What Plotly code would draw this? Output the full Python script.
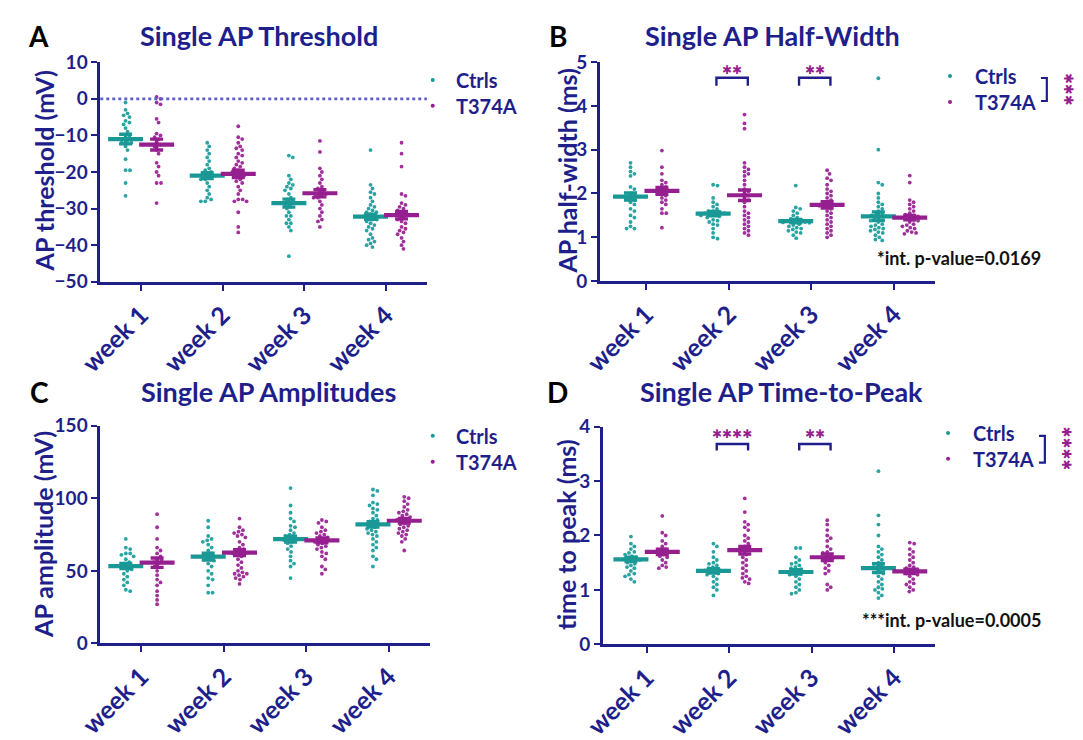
import plotly.graph_objects as go
import numpy as np

# ---------------------------------------------------------------- data
weeks = ["week 1", "week 2", "week 3", "week 4"]
groups = ["Ctrls", "T374A"]

# A: AP threshold (mV)
threshold_ctrl = [
    [-1, -3, -4, -4.5, -5, -6, -6.5, -7, -8, -9, -10, -10.5, -11, -11, -11.5, -12, -12, -13, -14, -16.5, -19.5, -19.5, -23, -26.5],
    [-12, -13, -14, -15, -16, -17, -18, -19, -19.5, -20, -20.5, -21, -21, -21.5, -22, -22, -23, -24, -25, -26, -27, -27.5, -28, -28],
    [-15.5, -16, -21, -22, -23, -23.5, -24, -24.5, -25, -26, -27, -27.5, -28, -28.5, -29, -29.5, -30, -31, -32, -32, -33, -34, -34, -35, -36, -43],
    [-14, -23.5, -24.5, -25.5, -26, -27, -28, -29, -29.5, -30, -30.5, -31, -31, -31.5, -32, -32, -32.5, -33, -33, -33.5, -34, -34.5, -35, -35.5, -36, -37, -38, -38.5, -39, -39.5, -40, -40.5],
]
threshold_mut = [
    [0.5, 0, -1, -1.5, -5.5, -6.5, -9.5, -10, -10.5, -11, -12, -12.5, -13, -14, -15, -17.5, -18.5, -20, -21, -23, -23, -28.5],
    [-7.5, -10.5, -11, -12, -13, -13.5, -14, -15, -15.5, -16, -17, -17.5, -18, -18.5, -19, -19.5, -20, -20, -21, -21, -22, -22.5, -23, -24, -25, -26, -27.5, -27.5, -28, -28, -31, -35, -36.5],
    [-11.5, -14.5, -19, -20, -21, -22, -23, -24, -24.5, -25, -25.5, -26, -26, -26.5, -27, -27, -28, -29, -30, -31, -32, -33, -33.5, -35],
    [-12, -15, -18.5, -26, -26.5, -28.5, -29, -29.5, -30, -30.5, -31, -31.5, -32, -32.5, -33, -33.5, -34, -35, -35.5, -36, -36.5, -37, -38, -39, -40, -41],
]
threshold_mean_ctrl = [-11.0, -21.0, -28.5, -32.2]
threshold_mean_mut = [-12.5, -20.5, -25.8, -31.8]
threshold_sem_ctrl = [1.3, 0.8, 1.1, 0.7]
threshold_sem_mut = [1.5, 1.0, 1.0, 1.0]

# B: AP half-width (ms)
halfwidth_ctrl = [
    [2.7, 2.6, 2.5, 2.45, 2.4, 2.15, 2.1, 2.0, 1.95, 1.9, 1.9, 1.85, 1.8, 1.75, 1.65, 1.6, 1.5, 1.45, 1.35, 1.25, 1.2, 1.2],
    [2.2, 2.18, 1.9, 1.8, 1.75, 1.7, 1.65, 1.6, 1.6, 1.58, 1.55, 1.55, 1.52, 1.5, 1.5, 1.48, 1.45, 1.4, 1.38, 1.35, 1.3, 1.28, 1.2, 1.1, 1.0, 0.97],
    [2.18, 1.68, 1.65, 1.6, 1.55, 1.5, 1.45, 1.42, 1.4, 1.38, 1.36, 1.35, 1.34, 1.33, 1.3, 1.28, 1.25, 1.22, 1.2, 1.18, 1.15, 1.12, 1.1, 1.05, 0.98],
    [4.63, 3.0, 2.25, 2.2, 2.0, 1.9, 1.8, 1.75, 1.7, 1.65, 1.6, 1.55, 1.52, 1.5, 1.48, 1.45, 1.42, 1.4, 1.38, 1.35, 1.3, 1.28, 1.25, 1.22, 1.2, 1.18, 1.15, 1.12, 1.1, 1.05, 1.0, 0.95, 0.93],
]
halfwidth_mut = [
    [2.98, 2.6, 2.45, 2.3, 2.25, 2.2, 2.15, 2.1, 2.05, 2.0, 2.0, 1.95, 1.9, 1.85, 1.8, 1.75, 1.65, 1.55, 1.55, 1.22],
    [3.8, 3.6, 3.48, 2.7, 2.6, 2.55, 2.5, 2.45, 2.4, 2.3, 2.2, 2.1, 2.05, 2.0, 1.95, 1.9, 1.85, 1.8, 1.7, 1.6, 1.55, 1.5, 1.45, 1.4, 1.35, 1.3, 1.25, 1.2, 1.15, 1.1, 1.05],
    [2.53, 2.45, 2.35, 2.3, 2.2, 2.1, 2.05, 2.0, 1.95, 1.9, 1.85, 1.8, 1.78, 1.75, 1.72, 1.7, 1.65, 1.6, 1.55, 1.5, 1.45, 1.4, 1.35, 1.3, 1.25, 1.2, 1.15, 1.1, 1.05, 1.0],
    [2.41, 2.25, 1.85, 1.8, 1.75, 1.7, 1.65, 1.6, 1.55, 1.52, 1.5, 1.48, 1.45, 1.42, 1.4, 1.38, 1.35, 1.3, 1.28, 1.25, 1.22, 1.2, 1.15, 1.12, 1.1, 1.08],
]
halfwidth_mean_ctrl = [1.93, 1.54, 1.37, 1.48]
halfwidth_mean_mut = [2.06, 1.96, 1.74, 1.45]
halfwidth_sem_ctrl = [0.08, 0.05, 0.04, 0.10]
halfwidth_sem_mut = [0.08, 0.12, 0.07, 0.05]

# C: AP amplitude (mV)
amplitude_ctrl = [
    [72, 66, 65, 62, 62, 61, 60, 58, 56, 55, 54, 53, 52, 51, 50, 48, 46, 44, 42, 40, 37, 36],
    [84.5, 80, 74, 72, 71, 70, 68, 66, 64, 62, 61, 60, 59, 58, 57, 55, 53, 50, 48, 45, 44, 40, 35, 35],
    [107, 95, 90, 86, 84, 81, 80, 78, 76, 75, 74, 73, 72, 72, 71, 70, 69, 67, 65, 63, 60, 57, 55, 53, 45],
    [106, 105, 102, 97, 96, 95, 93, 92, 90, 88, 86, 85, 84, 83, 82, 81, 80, 79, 78, 77, 76, 75, 74, 72, 70, 68, 66, 64, 60, 58, 53],
]
amplitude_mut = [
    [89, 80, 72, 66, 64, 62, 60, 58, 57, 56, 55, 53, 50, 47, 44, 42, 40, 36, 33, 30, 27],
    [86, 80, 78, 77, 76, 75, 74, 73, 70, 68, 66, 65, 64, 63, 62, 62, 61, 60, 58, 56, 54, 52, 50, 49, 48, 48, 47, 46, 45, 44, 41],
    [85, 84, 83, 80, 78, 77, 76, 75, 74, 73, 72, 71, 70, 70, 69, 68, 67, 66, 65, 63, 62, 60, 58, 53, 51, 48],
    [101, 100, 98, 96, 94, 92, 91, 90, 89, 88, 87, 86, 85, 85, 84, 83, 82, 81, 80, 79, 78, 77, 76, 75, 74, 72, 70, 64],
]
amplitude_mean_ctrl = [53.3, 59.8, 71.9, 82.0]
amplitude_mean_mut = [55.6, 62.5, 71.0, 84.5]
amplitude_sem_ctrl = [1.8, 2.3, 2.0, 1.8]
amplitude_sem_mut = [3.2, 2.0, 1.7, 1.6]

# D: time to peak (ms)
ttp_ctrl = [
    [1.98, 1.85, 1.8, 1.75, 1.7, 1.68, 1.65, 1.62, 1.6, 1.58, 1.56, 1.55, 1.53, 1.5, 1.48, 1.45, 1.42, 1.4, 1.35, 1.3, 1.28, 1.25, 1.2, 1.15],
    [1.85, 1.8, 1.7, 1.6, 1.55, 1.5, 1.48, 1.45, 1.42, 1.4, 1.38, 1.36, 1.35, 1.33, 1.3, 1.28, 1.25, 1.2, 1.15, 1.1, 1.05, 1.0, 0.9],
    [1.77, 1.77, 1.6, 1.55, 1.5, 1.48, 1.45, 1.42, 1.4, 1.38, 1.35, 1.33, 1.3, 1.28, 1.25, 1.2, 1.15, 1.1, 1.05, 1.0, 0.95, 0.93],
    [3.18, 2.37, 2.2, 2.0, 1.8, 1.75, 1.7, 1.65, 1.6, 1.55, 1.5, 1.48, 1.45, 1.42, 1.4, 1.38, 1.35, 1.32, 1.3, 1.25, 1.2, 1.15, 1.1, 1.05, 1.02, 1.0, 0.95, 0.9, 0.85],
]
ttp_mut = [
    [2.36, 2.05, 2.0, 1.9, 1.85, 1.8, 1.75, 1.72, 1.7, 1.68, 1.65, 1.62, 1.6, 1.55, 1.5, 1.45, 1.42, 1.4],
    [2.68, 2.43, 2.25, 2.2, 2.15, 2.1, 2.0, 1.95, 1.9, 1.85, 1.8, 1.78, 1.75, 1.72, 1.7, 1.65, 1.6, 1.55, 1.5, 1.45, 1.4, 1.35, 1.3, 1.25, 1.22, 1.2, 1.15, 1.12],
    [2.28, 2.2, 2.1, 2.0, 1.95, 1.9, 1.8, 1.75, 1.7, 1.68, 1.65, 1.62, 1.6, 1.58, 1.55, 1.5, 1.45, 1.4, 1.35, 1.3, 1.1, 1.05, 1.0],
    [1.87, 1.85, 1.75, 1.7, 1.65, 1.6, 1.55, 1.5, 1.45, 1.42, 1.4, 1.38, 1.35, 1.32, 1.3, 1.28, 1.25, 1.2, 1.15, 1.12, 1.1, 1.05, 1.0, 0.97],
]
ttp_mean_ctrl = [1.56, 1.35, 1.33, 1.40]
ttp_mean_mut = [1.70, 1.73, 1.60, 1.34]
ttp_sem_ctrl = [0.04, 0.04, 0.04, 0.08]
ttp_sem_mut = [0.05, 0.07, 0.06, 0.04]

titles = ["Single AP Threshold", "Single AP Half-Width", "Single AP Amplitudes", "Single AP Time-to-Peak"]
ylabels = ["AP threshold (mV)", "AP half-width (ms)", "AP amplitude (mV)", "time to peak (ms)"]
letters = ["A", "B", "C", "D"]

# ---------------------------------------------------------------- style
W, H = 1083, 740
NAVY = "#1f1f8c"
TEAL = "#1a9896"
MAG = "#961f90"
TEAL_DOT = "#2aa3a3"
MAG_DOT = "#a0309a"
FONT = "Lato"


def px(x):
    return x / W


def py(y):
    return 1 - y / H


# plot-area rectangles in pixels: (left, right, top, bottom), x-range, y-range, y-ticks
panels = [
    dict(box=(78.0, 412.0, 52.5, 282.0), xr=[-0.5, 3.5], yr=[-50, 10], ticks=list(range(-50, 11, 10)),
         ctrl=threshold_ctrl, mut=threshold_mut,
         mc=threshold_mean_ctrl, mm=threshold_mean_mut, sc=threshold_sem_ctrl, sm=threshold_sem_mut),
    dict(box=(589.0, 932.0, 52.3, 281.3), xr=[-0.56, 3.5], yr=[0, 5], ticks=[0, 1, 2, 3, 4, 5],
         ctrl=halfwidth_ctrl, mut=halfwidth_mut,
         mc=halfwidth_mean_ctrl, mm=halfwidth_mean_mut, sc=halfwidth_sem_ctrl, sm=halfwidth_sem_mut),
    dict(box=(78.0, 415.0, 432.3, 660.0), xr=[-0.5, 3.5], yr=[0, 150], ticks=[0, 50, 100, 150],
         ctrl=amplitude_ctrl, mut=amplitude_mut,
         mc=amplitude_mean_ctrl, mm=amplitude_mean_mut, sc=amplitude_sem_ctrl, sm=amplitude_sem_mut),
    dict(box=(592.0, 932.0, 433.3, 661.0), xr=[-0.53, 3.5], yr=[0, 4], ticks=[0, 1, 2, 3, 4],
         ctrl=ttp_ctrl, mut=ttp_mut,
         mc=ttp_mean_ctrl, mm=ttp_mean_mut, sc=ttp_sem_ctrl, sm=ttp_sem_mut),
]

GROUP_SHIFT = 0.19  # category units between the week tick and each group column
DOT = 4.3           # minimum centre distance between dots, px


def swarm(values, ppu_y, ppu_x):
    """Beeswarm x-offsets (category units) so that dots do not overlap."""
    vals = np.asarray(values, float)
    order = np.argsort(-vals)
    placed = []
    offs = np.zeros(len(vals))
    steps = [0.0]
    for k in range(1, 60):
        steps += [k * 0.5, -k * 0.5]
    for i in order:
        yp = vals[i] * ppu_y
        for s in steps:
            ok = True
            for (xq, yq) in placed:
                if (s - xq) ** 2 + (yp - yq) ** 2 < DOT ** 2:
                    ok = False
                    break
            if ok:
                placed.append((s, yp))
                offs[i] = s / ppu_x
                break
    return offs


fig = go.Figure()
layout_axes = {}
shapes = []
annotations = []

for p_i, p in enumerate(panels):
    n = "" if p_i == 0 else str(p_i + 1)
    xa, ya = "x" + n, "y" + n
    left, right, top, bottom = p["box"]
    ppu_x = (right - left) / (p["xr"][1] - p["xr"][0])
    ppu_y = (bottom - top) / (p["yr"][1] - p["yr"][0])

    for g, (data, means, sems, dot_c, bar_c, sgn) in enumerate([
        (p["ctrl"], p["mc"], p["sc"], TEAL_DOT, TEAL, -1),
        (p["mut"], p["mm"], p["sm"], MAG_DOT, MAG, 1),
    ]):
        xs, ys = [], []
        for w, vals in enumerate(data):
            offs = swarm(vals, ppu_y, ppu_x)
            xs += list(w + sgn * GROUP_SHIFT + offs)
            ys += list(vals)
        fig.add_trace(go.Scatter(
            x=xs, y=ys, mode="markers", xaxis=xa, yaxis=ya, showlegend=False,
            marker=dict(size=3.8, color=dot_c, line=dict(width=0)), hoverinfo="skip"))
        cx = [w + sgn * GROUP_SHIFT for w in range(4)]
        fig.add_trace(go.Scatter(
            x=cx, y=means, mode="markers", xaxis=xa, yaxis=ya, showlegend=False,
            marker=dict(symbol="line-ew", size=25, line=dict(width=4.2, color=bar_c)),
            error_y=dict(type="data", array=sems, visible=True, color=bar_c, thickness=3.4, width=6.5),
            hoverinfo="skip"))

    axis_common = dict(showgrid=False, zeroline=False, showline=True, linecolor=NAVY, linewidth=2.6,
                       ticks="outside", tickcolor=NAVY, tickwidth=2.4, ticklen=6, fixedrange=True)
    layout_axes["xaxis" + n] = dict(
        axis_common, domain=[px(left), px(right)], range=p["xr"], anchor=ya,
        tickmode="array", tickvals=[0, 1, 2, 3], ticktext=weeks, tickangle=-45,
        tickfont=dict(family=FONT, size=25, color=NAVY, weight="bold"))
    layout_axes["yaxis" + n] = dict(
        axis_common, domain=[py(bottom), py(top)], range=p["yr"], anchor=xa,
        tickmode="array", tickvals=p["ticks"],
        tickfont=dict(family=FONT, size=19, color=NAVY, weight="bold"))

# dotted zero line in panel A
shapes.append(dict(type="line", xref="x domain", yref="y", x0=0, x1=1, y0=0, y1=0,
                   line=dict(color="#6060c8", width=2.6, dash="dot")))

# panel letters, titles and y-axis titles
title_pos = [(240, 25), (765, 25), (250, 397), (775, 397)]
letter_pos = [(15, 25), (546, 25), (16, 397), (546, 397)]
ylab_pos = [(20, 166), (555, 166), (20, 546), (555, 546)]
for i in range(4):
    annotations.append(dict(text=titles[i], x=px(title_pos[i][0]), y=py(title_pos[i][1]),
                            xref="paper", yref="paper", showarrow=False, xanchor="center", yanchor="middle",
                            font=dict(family=FONT, size=27, color=NAVY, weight="bold")))
    annotations.append(dict(text=letters[i], x=px(letter_pos[i][0]), y=py(letter_pos[i][1]),
                            xref="paper", yref="paper", showarrow=False, xanchor="center", yanchor="middle",
                            font=dict(family=FONT, size=28, color="black", weight="bold")))
    annotations.append(dict(text=ylabels[i], x=px(ylab_pos[i][0]), y=py(ylab_pos[i][1]),
                            xref="paper", yref="paper", showarrow=False, textangle=-90,
                            xanchor="center", yanchor="middle",
                            font=dict(family=FONT, size=25, color=NAVY, weight="bold")))

# legends: (marker x, text x, y of Ctrls, y of T374A)
legend_pos = [(418, 440, 71, 98), (947, 970, 67, 94), (418, 440, 443, 470), (945, 968, 440, 467)]
for mx, tx, y1, y2 in legend_pos:
    for yy, col, lab in [(y1, TEAL, groups[0]), (y2, MAG, groups[1])]:
        shapes.append(dict(type="circle", xref="paper", yref="paper", xsizemode="pixel", ysizemode="pixel",
                           xanchor=px(mx), yanchor=py(yy), x0=-2, x1=2, y0=-2, y1=2,
                           fillcolor=col, line=dict(width=0)))
        annotations.append(dict(text=lab, x=px(tx), y=py(yy), xref="paper", yref="paper", showarrow=False,
                                xanchor="left", yanchor="middle",
                                font=dict(family=FONT, size=20, color=NAVY, weight="bold")))

# genotype-effect brackets next to legends, with a vertical run of stars
STAR_FONT = dict(family="DejaVu Sans", size=12, color=MAG, weight="bold")
for bx, yt, yb, stars in [(1046, 69, 93, "✱✱✱"), (1044, 443, 471, "✱✱✱✱")]:
    shapes.append(dict(type="path", xref="paper", yref="paper",
                       path=f"M {px(bx - 6)},{py(yt)} L {px(bx)},{py(yt)} L {px(bx)},{py(yb)} L {px(bx - 6)},{py(yb)}",
                       line=dict(color=NAVY, width=2.2)))
    annotations.append(dict(text=stars, x=px(bx + 22), y=py((yt + yb) / 2), xref="paper", yref="paper",
                            showarrow=False, textangle=90, xanchor="center", yanchor="middle",
                            font=dict(family="DejaVu Sans", size=13, color=MAG, weight="bold")))

# week-wise comparison brackets (data coordinates)
sig = [
    ("x2", "y2", 1, 4.64, 4.46, 4.82, "✱✱"),
    ("x2", "y2", 2, 4.64, 4.46, 4.82, "✱✱"),
    ("x4", "y4", 1, 3.68, 3.56, 3.87, "✱✱✱✱"),
    ("x4", "y4", 2, 3.68, 3.56, 3.87, "✱✱"),
]
for xr_, yr_, w, ytop, ybot, ystar, stars in sig:
    x0, x1 = w - 0.15, w + 0.23
    shapes.append(dict(type="path", xref=xr_, yref=yr_,
                       path=f"M {x0},{ybot} L {x0},{ytop} L {x1},{ytop} L {x1},{ybot}",
                       line=dict(color=NAVY, width=2.4)))
    annotations.append(dict(text=stars, x=(x0 + x1) / 2, y=ystar, xref=xr_, yref=yr_, showarrow=False,
                            xanchor="center", yanchor="middle", font=STAR_FONT))

# interaction p-values
for txt, xr_, yy in [("*int. p-value=0.0169", 1042, 257), ("***int. p-value=0.0005", 1042, 636)]:
    annotations.append(dict(text=txt, x=px(xr_), y=py(yy), xref="paper", yref="paper", showarrow=False,
                            xanchor="right", yanchor="middle",
                            font=dict(family=FONT, size=18, color="#111111", weight="bold")))

fig.update_layout(
    width=W, height=H, margin=dict(l=0, r=0, t=0, b=0),
    paper_bgcolor="white", plot_bgcolor="white", showlegend=False,
    shapes=shapes, annotations=annotations, **layout_axes)

fig.write_html("out.html", config={"displayModeBar": False})
